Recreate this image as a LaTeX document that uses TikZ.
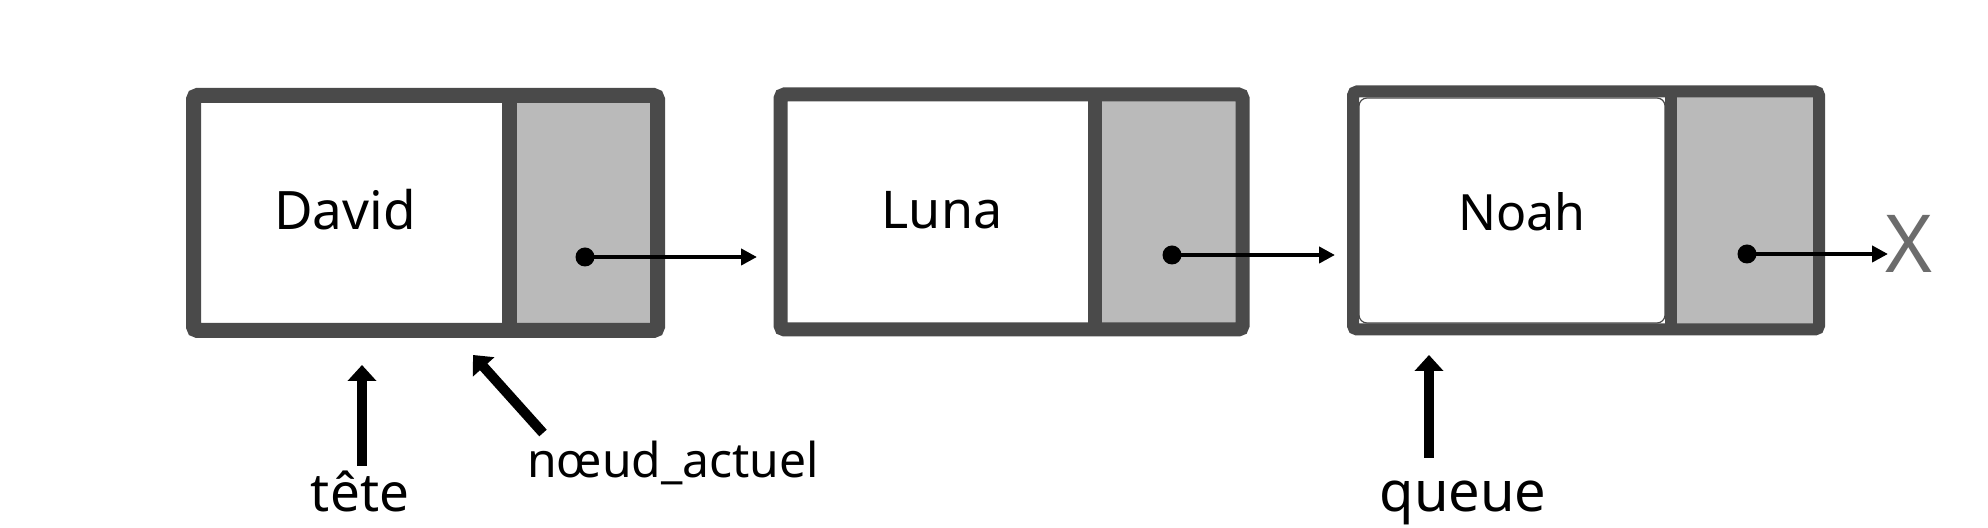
\documentclass[tikz,border=0pt]{standalone}
\usepackage{fontspec}
\setmainfont{Noto Sans}
\usetikzlibrary{arrows.meta}
\definecolor{framegray}{HTML}{4A4A4A}
\definecolor{ptrgray}{HTML}{BABABA}
\definecolor{xgray}{HTML}{6C6C6C}
\tikzset{
  frame/.style={draw=framegray, rounded corners=2pt, inner sep=0pt},
  divider/.style={draw=framegray},
  ptrcell/.style={fill=ptrgray},
  datatext/.style={text=black},
  dot/.style={circle, fill=black, inner sep=0pt, minimum size=9.5pt},
  link/.style={line width=2.3pt, -{Triangle[length=8pt,width=8pt]}},
  pointer/.style={line width=5pt, -{Triangle[length=8pt,width=14pt]}},
  lbl/.style={anchor=base, text=black, inner sep=0pt},
}
\begin{document}
\begin{tikzpicture}[x=0.5pt, y=-0.5pt]
\useasboundingbox[fill=white] (0,0) rectangle (1988,528);

% ---- node 1 ----
\fill[ptrcell] (509.5,95.5) rectangle (657.5,330.5);
\node[frame, line width=7.5pt, minimum width=232pt, minimum height=117.5pt] (f1) at (425.5,213) {};
\draw[divider, line width=7.5pt] (509.5,95.5) -- (509.5,330.5);
\node[datatext, font=\fontsize{26.5}{30}\selectfont] (t1) at (345,210) {David};
\node[dot] (p1) at (585,257) {};

% ---- node 2 ----
\fill[ptrcell] (1095,94.5) rectangle (1242.5,329.5);
\node[frame, line width=7pt, minimum width=231pt, minimum height=117.5pt] (f2) at (1011.5,212) {};
\draw[divider, line width=7pt] (1095,94.5) -- (1095,329.5);
\node[datatext, font=\fontsize{26}{30}\selectfont] (t2) at (942,210) {Luna};
\node[dot] (p2) at (1172,255) {};

% ---- node 3 ----
\fill[ptrcell] (1671,91.5) rectangle (1819,329.5);
\node[frame, line width=6pt, minimum width=233pt, minimum height=119pt] (f3) at (1586,210.5) {};
\draw[divider, line width=6pt] (1671,91.5) -- (1671,329.5);
\draw[framegray, line width=0.6pt, rounded corners=4pt] (1359,98) rectangle (1665,323);
\node[datatext, font=\fontsize{25}{29}\selectfont] (t3) at (1522,212) {Noah};
\node[dot] (p3) at (1747,254) {};
\node[font=\fontsize{40}{44}\selectfont, text=xgray, inner sep=0pt] (nil) at (1909,243.5) {X};

% ---- links ----
\coordinate (e1) at (757,257);
\coordinate (e2) at (1335,255);
\coordinate (e3) at (1888,254);
\draw[link] (p1.center) -- (e1);
\draw[link] (p2.center) -- (e2);
\draw[link] (p3.center) -- (e3);

% ---- pointers ----
\node[lbl, font=\fontsize{26.5}{30}\selectfont] (tete) at (360,512) {tête};
\node[lbl, font=\fontsize{24}{27}\selectfont] (cur) at (673,478) {nœud\_actuel};
\node[lbl, font=\fontsize{28}{31}\selectfont] (queue) at (1463,512) {queue};
\coordinate (tetetip) at (362,365);
\coordinate (tetebase) at (362,466);
\coordinate (curtip) at (473,355);
\coordinate (curbase) at (543,433);
\coordinate (queuetip) at (1429,355);
\coordinate (queuebase) at (1429,458);
\draw[pointer] (tetebase) -- (tetetip);
\draw[pointer] (curbase) -- (curtip);
\draw[pointer] (queuebase) -- (queuetip);
\end{tikzpicture}
\end{document}
